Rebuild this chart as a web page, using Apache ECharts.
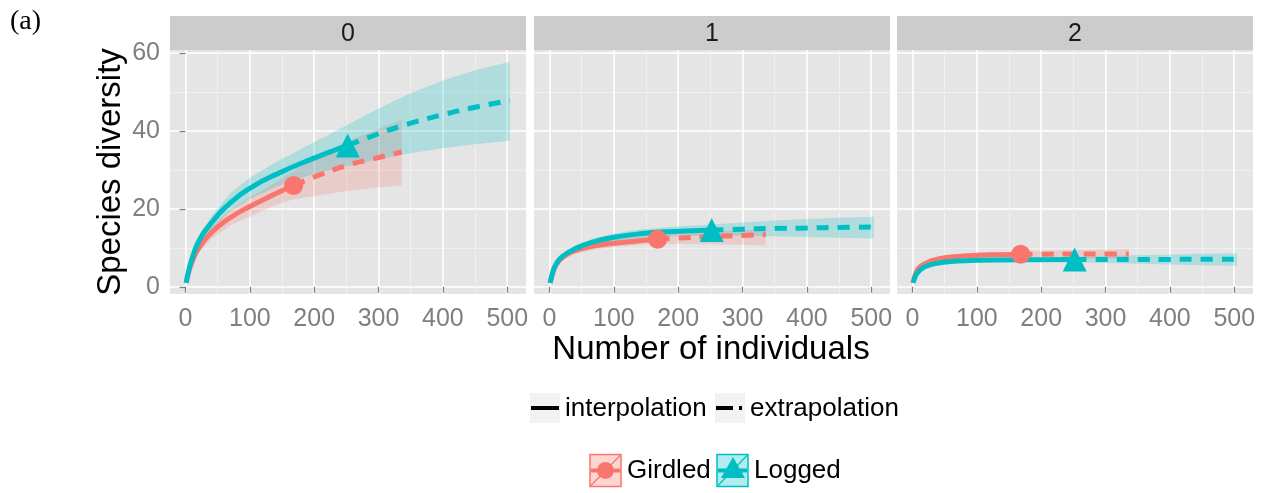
<!DOCTYPE html>
<html><head><meta charset="utf-8">
<script src="https://cdn.jsdelivr.net/npm/echarts@6/dist/echarts.min.js"></script>
<style>html,body{margin:0;padding:0;background:#fff}#c{width:1271px;height:493px}</style>
</head><body><div id="c"></div>
<script>
// ---------- data ----------
const panelLabels = ['0', '1', '2'];
const xTicks = [0, 100, 200, 300, 400, 500];
const xMinorTicks = [50, 150, 250, 350, 450];
const yTicks = [0, 20, 40, 60];
const yMinorTicks = [10, 30, 50];
const groupNames = ['Girdled', 'Logged'];
const methodNames = ['interpolation', 'extrapolation'];

// sample sizes (x); observed point index
const girdledX = [1, 5, 10, 20, 40, 70, 100, 140, 168, 200, 250, 300, 336];
const girdledObsIndex = 8;
const loggedX = [1, 5, 10, 20, 40, 70, 100, 140, 190, 252, 300, 350, 400, 450, 504];
const loggedObsIndex = 9;

// panel 0
const girdled0 = [1, 3.8, 6.3, 9.8, 13.9, 17.8, 20.6, 23.9, 26.0, 28.2, 31.1, 33.2, 34.6];
const girdled0Lo = [1, 3.3, 5.5, 8.6, 12.3, 15.8, 18.0, 21.0, 22.5, 23.3, 24.6, 25.5, 26.1];
const girdled0Hi = [1, 4.3, 7.1, 11.0, 15.5, 19.8, 23.0, 26.8, 29.8, 33.0, 37.4, 40.6, 42.9];
const logged0 = [1, 4.2, 7.2, 11.5, 16.4, 21.6, 25.3, 28.8, 32.4, 36.3, 39.3, 42.0, 44.2, 46.1, 47.8];
const logged0Lo = [1, 3.7, 6.4, 10.3, 14.7, 19.5, 22.6, 25.6, 28.5, 31.0, 32.8, 34.3, 35.6, 36.6, 37.5];
const logged0Hi = [1, 4.7, 8.0, 12.7, 18.1, 24.1, 28.0, 32.0, 36.3, 41.6, 45.8, 49.7, 53.0, 55.6, 57.8];
// panel 1
const girdled1 = [1, 3.5, 5.5, 7.5, 9.3, 10.5, 11.2, 11.8, 12.2, 12.5, 12.9, 13.2, 13.4];
const girdled1Lo = [1, 3.1, 4.9, 6.8, 8.5, 9.6, 10.2, 10.7, 11.0, 11.0, 10.9, 10.8, 10.6];
const girdled1Hi = [1, 3.9, 6.1, 8.2, 10.1, 11.4, 12.2, 12.9, 13.4, 13.8, 14.2, 14.5, 14.7];
const logged1 = [1, 3.8, 5.8, 7.8, 9.8, 11.6, 12.7, 13.6, 14.2, 14.6, 14.8, 15.0, 15.1, 15.25, 15.35];
const logged1Lo = [1, 3.3, 5.2, 7.1, 9.0, 10.7, 11.7, 12.5, 13.0, 13.2, 13.1, 13.0, 12.8, 12.6, 12.4];
const logged1Hi = [1, 4.3, 6.4, 8.5, 10.6, 12.5, 13.7, 14.7, 15.4, 16.0, 16.5, 17.0, 17.4, 17.7, 18.0];
// panel 2
const girdled2 = [1, 3.5, 4.9, 6.0, 7.15, 7.8, 8.1, 8.25, 8.35, 8.38, 8.4, 8.42, 8.43];
const girdled2Lo = [1, 3.1, 4.4, 5.5, 6.6, 7.2, 7.5, 7.6, 7.7, 7.6, 7.4, 7.2, 7.0];
const girdled2Hi = [1, 3.9, 5.4, 6.5, 7.7, 8.4, 8.7, 8.9, 9.0, 9.2, 9.4, 9.6, 9.8];
const logged2 = [1, 2.9, 4.0, 5.2, 6.1, 6.6, 6.8, 6.9, 6.95, 7.0, 7.02, 7.03, 7.04, 7.05, 7.05];
const logged2Lo = [1, 2.5, 3.5, 4.7, 5.6, 6.1, 6.3, 6.4, 6.4, 6.3, 6.1, 5.9, 5.7, 5.5, 5.4];
const logged2Hi = [1, 3.3, 4.5, 5.7, 6.6, 7.1, 7.3, 7.4, 7.5, 7.7, 7.9, 8.1, 8.3, 8.5, 8.6];

const girdledPanels = [[girdled0, girdled0Lo, girdled0Hi], [girdled1, girdled1Lo, girdled1Hi], [girdled2, girdled2Lo, girdled2Hi]];
const loggedPanels = [[logged0, logged0Lo, logged0Hi], [logged1, logged1Lo, logged1Hi], [logged2, logged2Lo, logged2Hi]];

// ---------- layout / style ----------
const RED = '#F8766D', CYAN = '#00BFC4';
const RED_BAND = 'rgba(248,118,109,0.22)', CYAN_BAND = 'rgba(0,191,196,0.23)';
const FONT = 'Liberation Sans';
const gridLefts = [170, 534, 897];
const gridTop = 50, gridW = 356, gridH = 244;
const xMin = -24.15, xMax = 529.15, yMin = -1.85, yMax = 60.8;

const grids = gridLefts.map(l => ({left: l, top: gridTop, width: gridW, height: gridH, show: true,
  backgroundColor: '#E5E5E5', borderWidth: 0}));

const xAxes = [], yAxes = [];
for (let i = 0; i < 3; i++) {
  xAxes.push({type: 'value', gridIndex: i, position: 'bottom', min: xMin, max: xMax,
    axisLine: {show: false}, axisTick: {show: false, customValues: xMinorTicks},
    axisLabel: {show: false, customValues: xMinorTicks},
    splitLine: {show: true, lineStyle: {color: '#F2F2F2', width: 0.8}}});
  yAxes.push({type: 'value', gridIndex: i, position: 'left', min: yMin, max: yMax,
    axisLine: {show: false}, axisTick: {show: false, customValues: yMinorTicks},
    axisLabel: {show: false, customValues: yMinorTicks},
    splitLine: {show: true, lineStyle: {color: '#F2F2F2', width: 0.8}}});
}
for (let i = 0; i < 3; i++) {
  xAxes.push({type: 'value', gridIndex: i, position: 'bottom', min: xMin, max: xMax,
    axisLine: {show: false},
    axisTick: {show: true, length: 6, lineStyle: {color: '#7F7F7F', width: 1.2}, customValues: xTicks},
    axisLabel: {show: true, customValues: xTicks, color: '#7F7F7F', fontSize: 25, fontFamily: FONT, margin: 13},
    splitLine: {show: true, lineStyle: {color: '#FFFFFF', width: 1.6}}});
  yAxes.push({type: 'value', gridIndex: i, position: 'left', min: yMin, max: yMax,
    axisLine: {show: false},
    axisTick: {show: i === 0, length: 6, lineStyle: {color: '#7F7F7F', width: 1.2}, customValues: yTicks},
    axisLabel: {show: i === 0, customValues: yTicks, color: '#7F7F7F', fontSize: 25, fontFamily: FONT, margin: 10},
    splitLine: {show: true, lineStyle: {color: '#FFFFFF', width: 1.6}}});
}

function bandSeries(xs, lo, hi, fill, ai) {
  return {type: 'custom', xAxisIndex: ai, yAxisIndex: ai, silent: true, z: 2,
    data: xs.map((x, k) => [x, lo[k], hi[k]]),
    renderItem: function (params, api) {
      if (params.dataIndex !== 0) return null;
      const top = xs.map((x, k) => api.coord([x, hi[k]]));
      const bot = xs.map((x, k) => api.coord([x, lo[k]])).reverse();
      return {type: 'polygon', shape: {points: top.concat(bot), smooth: 0}, style: {fill: fill}};
    }};
}
function lineSeries(xs, ys, color, dashed, ai) {
  return {type: 'line', xAxisIndex: ai, yAxisIndex: ai, silent: true, z: 3,
    data: xs.map((x, k) => [x, ys[k]]), showSymbol: false, symbol: 'none',
    smooth: 0.5,
    lineStyle: {color: color, width: 5, type: dashed ? [12, 9] : 'solid', cap: 'butt'}};
}
function pointSeries(x, y, color, symbol, size, ai) {
  return {type: 'scatter', xAxisIndex: ai, yAxisIndex: ai, silent: true, z: 4,
    data: [[x, y]], symbol: symbol, symbolSize: size, itemStyle: {color: color, opacity: 1}};
}

const series = [];
for (let i = 0; i < 3; i++) {
  const ai = 3 + i;
  const [gy, glo, ghi] = girdledPanels[i];
  const [ly, llo, lhi] = loggedPanels[i];
  series.push(bandSeries(girdledX, glo, ghi, RED_BAND, ai));
  series.push(bandSeries(loggedX, llo, lhi, CYAN_BAND, ai));
  series.push(lineSeries(girdledX.slice(0, girdledObsIndex + 1), gy.slice(0, girdledObsIndex + 1), RED, false, ai));
  series.push(lineSeries(girdledX.slice(girdledObsIndex), gy.slice(girdledObsIndex), RED, true, ai));
  series.push(lineSeries(loggedX.slice(0, loggedObsIndex + 1), ly.slice(0, loggedObsIndex + 1), CYAN, false, ai));
  series.push(lineSeries(loggedX.slice(loggedObsIndex), ly.slice(loggedObsIndex), CYAN, true, ai));
  series.push(pointSeries(girdledX[girdledObsIndex], gy[girdledObsIndex], RED, 'circle', 19, ai));
  series.push(pointSeries(loggedX[loggedObsIndex], ly[loggedObsIndex], CYAN, 'triangle', 24, ai));
}

// ---------- graphic: strips, titles, legend ----------
const graphic = [];
graphic.push({type: 'text', x: 10, y: 22, style: {text: '(a)', fontSize: 28, fontFamily: 'Liberation Serif', fill: '#000',
  align: 'left', verticalAlign: 'middle', textAlign: 'left', textVerticalAlign: 'middle'}});
gridLefts.forEach((l, i) => {
  graphic.push({type: 'rect', shape: {x: l, y: 16, width: gridW, height: 34}, style: {fill: '#CCCCCC'}, z: 1});
  graphic.push({type: 'text', x: l + gridW / 2, y: 34, z: 2, style: {text: panelLabels[i], fontSize: 25, fontFamily: FONT,
    fill: '#1A1A1A', align: 'center', verticalAlign: 'middle', textAlign: 'center', textVerticalAlign: 'middle'}});
});
graphic.push({type: 'text', x: 111, y: 172, rotation: Math.PI / 2, style: {text: 'Species diversity', fontSize: 33, fontFamily: FONT,
  fill: '#000', align: 'center', verticalAlign: 'middle', textAlign: 'center', textVerticalAlign: 'middle'}});
graphic.push({type: 'text', x: 711, y: 350, style: {text: 'Number of individuals', fontSize: 33, fontFamily: FONT,
  fill: '#000', align: 'center', verticalAlign: 'middle', textAlign: 'center', textVerticalAlign: 'middle'}});

function legendText(t, x, y) {
  return {type: 'text', x: x, y: y, style: {text: t, fontSize: 26, fontFamily: FONT, fill: '#000',
    align: 'left', verticalAlign: 'middle', textAlign: 'left', textVerticalAlign: 'middle'}};
}
// linetype legend
graphic.push({type: 'rect', shape: {x: 530, y: 393, width: 30, height: 30}, style: {fill: '#F2F2F2'}});
graphic.push({type: 'line', shape: {x1: 531, y1: 408, x2: 559, y2: 408}, style: {stroke: '#000', lineWidth: 4}});
graphic.push(legendText(methodNames[0], 565, 409));
graphic.push({type: 'rect', shape: {x: 715, y: 393, width: 30, height: 30}, style: {fill: '#F2F2F2'}});
graphic.push({type: 'line', shape: {x1: 716, y1: 408, x2: 733, y2: 408}, style: {stroke: '#000', lineWidth: 4}});
graphic.push({type: 'line', shape: {x1: 739, y1: 408, x2: 742, y2: 408}, style: {stroke: '#000', lineWidth: 4}});
graphic.push(legendText(methodNames[1], 750, 409));
// group legend
function groupKey(x, color, band, isTri) {
  const els = [];
  els.push({type: 'rect', shape: {x: x, y: 454.5, width: 31, height: 32}, style: {fill: band, stroke: color, lineWidth: 1.5}});
  els.push({type: 'line', shape: {x1: x + 1, y1: 485.5, x2: x + 30, y2: 455.5}, style: {stroke: color, lineWidth: 1.2}});
  els.push({type: 'line', shape: {x1: x + 1, y1: 470.5, x2: x + 30, y2: 470.5}, style: {stroke: color, lineWidth: 4}});
  if (isTri) {
    els.push({type: 'polygon', shape: {points: [[x + 16, 457], [x + 4, 478], [x + 28, 478]]}, style: {fill: color}});
  } else {
    els.push({type: 'circle', shape: {cx: x + 15.5, cy: 470.5, r: 8.5}, style: {fill: color}});
  }
  return els;
}
groupKey(590, RED, 'rgba(248,118,109,0.3)', false).forEach(e => graphic.push(e));
graphic.push(legendText(groupNames[0], 627, 471));
groupKey(717, CYAN, 'rgba(0,191,196,0.3)', true).forEach(e => graphic.push(e));
graphic.push(legendText(groupNames[1], 754, 471));

const chart = echarts.init(document.getElementById('c'), null, {renderer: 'canvas'});
chart.setOption({
  animation: false,
  backgroundColor: '#FFFFFF',
  grid: grids,
  xAxis: xAxes,
  yAxis: yAxes,
  series: series,
  graphic: graphic
});
</script>
</body></html>
